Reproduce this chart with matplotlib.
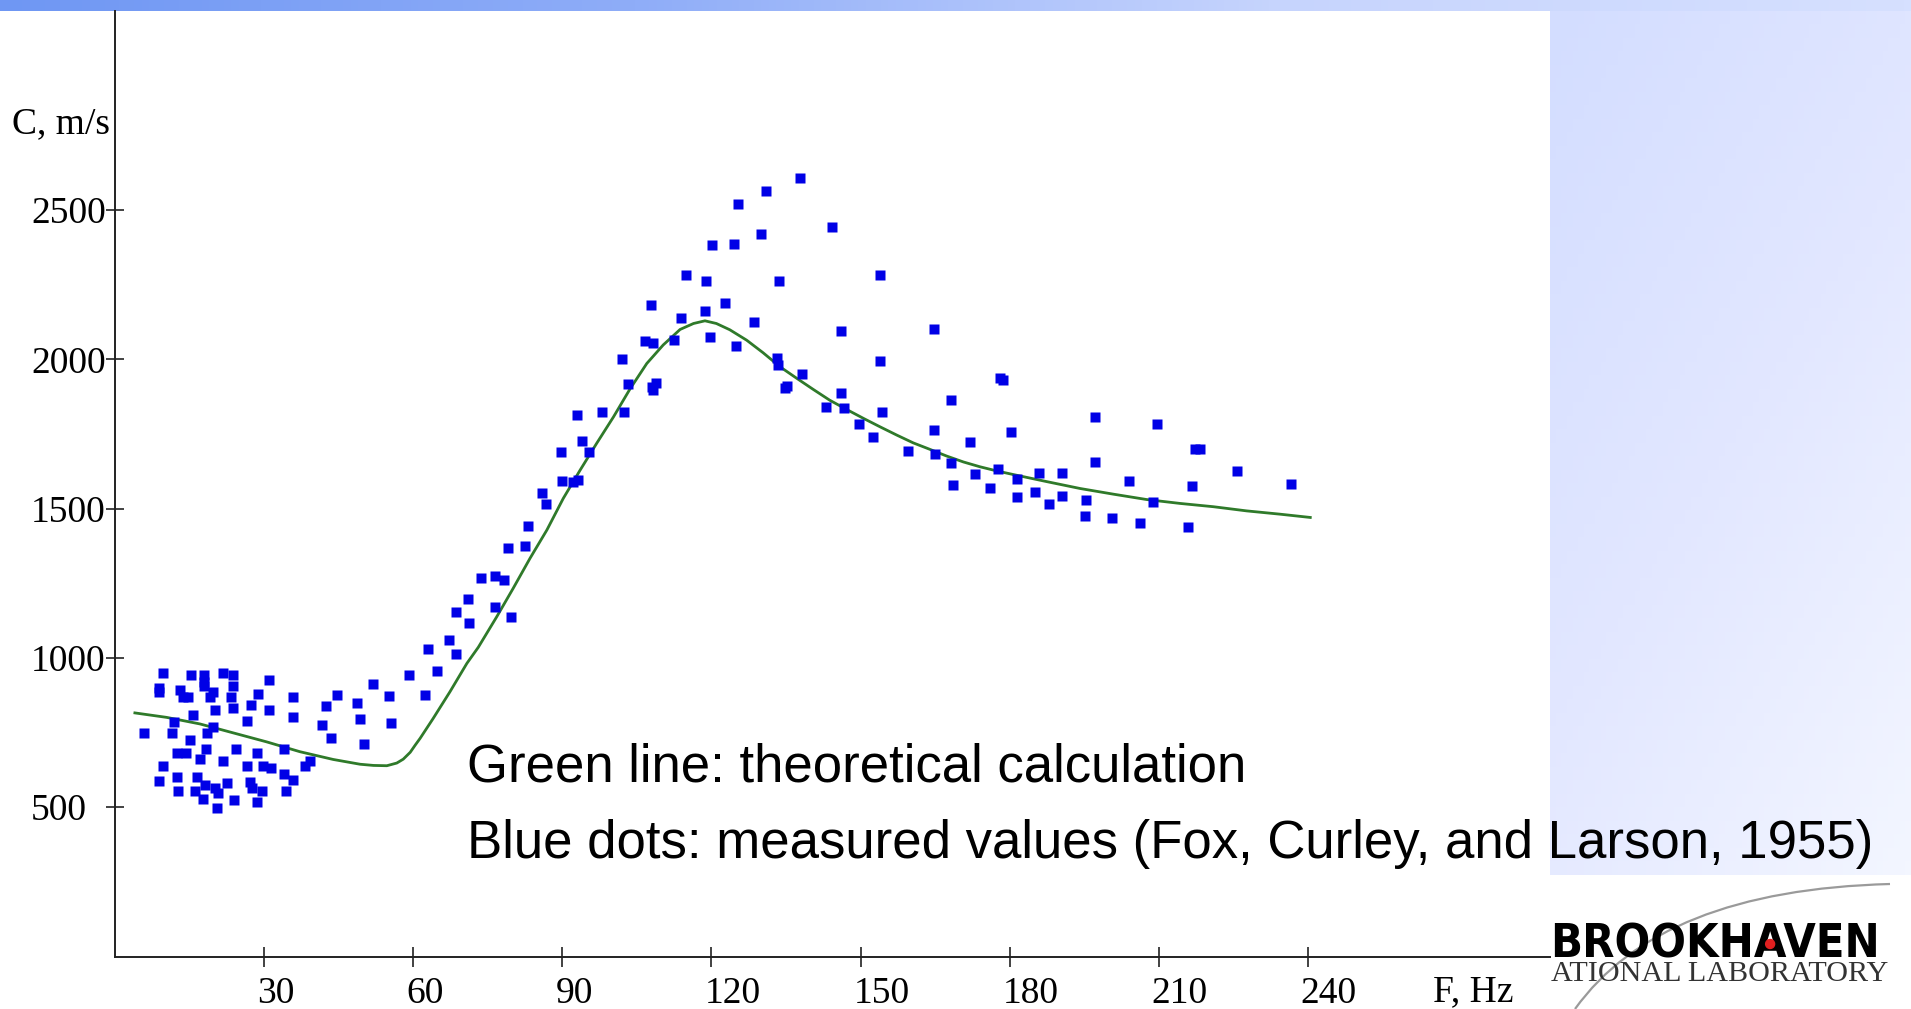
import numpy as np
import matplotlib
matplotlib.use('Agg')
import matplotlib.pyplot as plt
from matplotlib.transforms import ScaledTranslation
from matplotlib.path import Path
from matplotlib.patches import PathPatch, Circle

# measured sound speed in pipes (Fox, Curley and Larson, 1955)
freq_meas = [
    9.6, 15.2, 17.9, 21.8, 23.7, 31.0, 8.9, 8.9, 13.1, 13.7, 14.6, 17.9, 17.9,
    19.7, 19.1, 23.7, 23.3, 28.8, 27.3, 23.8, 20.1, 31.0, 35.9, 35.9, 15.6, 11.9,
    26.5, 19.8, 18.6, 5.8, 11.4, 15.0, 12.4, 14.3, 18.3, 17.2, 24.3, 21.7, 28.5,
    26.5, 29.7, 31.3, 34.0, 34.0, 35.8, 39.2, 38.2, 9.6, 8.9, 12.5, 16.4, 12.7,
    16.1, 18.1, 20.1, 20.8, 17.8, 22.5, 23.9, 20.5, 27.2, 27.5, 29.5, 28.5, 34.5,
    41.6, 42.5, 44.6, 43.4, 48.6, 49.2, 50.2, 51.9, 55.2, 55.5, 59.2, 62.4, 63.0,
    64.8, 67.2, 68.6, 68.7, 71.3, 71.1, 76.5, 79.6,
    73.6, 76.5, 78.3, 79.1, 82.5, 83.0, 86.0, 86.7, 89.9, 92.2, 93.2, 89.7, 93.9,
    95.4, 92.9, 97.9, 102.4, 103.3, 102.1, 108.0, 108.8, 108.3, 106.6, 108.3,
    107.8, 112.5, 113.8, 114.9, 118.7, 119.7, 119.0, 122.7, 124.9, 128.5, 120.2,
    124.6, 129.9, 133.1, 133.5, 133.7,
    137.8, 131.0, 125.4, 144.2, 153.9, 146.1, 164.7, 138.2, 134.8, 135.3, 153.9,
    146.1, 143.1, 146.7, 154.3, 149.6, 152.5, 159.6, 164.8, 164.9, 168.2, 168.3,
    172.0, 173.0, 178.0, 178.6, 180.3, 177.7, 181.4, 185.9, 190.5, 197.2, 197.1,
    168.6,
    209.6, 217.4, 218.4, 176.1, 181.4, 185.1, 188.0, 190.5, 195.3, 195.2, 200.7,
    204.0, 206.2, 208.9, 216.8, 215.8, 225.7, 236.6,
]
speed_meas = [
    949, 942, 942, 949, 942, 925, 900, 886, 891, 869, 869, 919, 905,
    886, 867, 905, 869, 880, 843, 830, 824, 824, 867, 800, 808, 785,
    789, 769, 748, 746, 748, 724, 679, 681, 693, 659, 693, 653, 679,
    638, 638, 629, 694, 610, 590, 655, 638, 638, 588, 599, 601, 554,
    554, 573, 562, 545, 525, 581, 523, 498, 584, 562, 554, 517, 554,
    774, 838, 875, 732, 849, 794, 710, 912, 872, 782, 942, 875, 1029,
    955, 1061, 1012, 1154, 1117, 1198, 1169, 1137,
    1266, 1273, 1262, 1368, 1375, 1442, 1551, 1514, 1593, 1590, 1595, 1688, 1726,
    1688, 1813, 1824, 1824, 1917, 2001, 1908, 1919, 1896, 2062, 2055,
    2182, 2064, 2137, 2282, 2163, 2075, 2263, 2189, 2044, 2126, 2383,
    2388, 2420, 2003, 1981, 2263,
    2606, 2564, 2520, 2444, 2282, 2094, 2100, 1950, 1905, 1912, 1994,
    1888, 1841, 1837, 1824, 1782, 1738, 1693, 1763, 1681, 1863, 1651,
    1724, 1615, 1939, 1932, 1755, 1631, 1598, 1620, 1620, 1807, 1656,
    1580,
    1782, 1699, 1699, 1570, 1539, 1556, 1514, 1543, 1530, 1475, 1469,
    1593, 1450, 1521, 1575, 1437, 1625, 1582,
]

# theoretical calculation
freq_theory = [
    4.0, 10.4, 17.1, 23.8, 30.5, 37.2, 43.9, 49.3, 52.0, 54.7, 56.7, 58.0, 59.4,
    60.4, 61.4, 64.0, 67.4, 70.8, 73.1, 76.8, 80.1, 83.5, 86.9, 90.2, 93.6, 96.9,
    100.3, 103.6, 107.0, 110.3, 113.7, 116.4, 118.7, 121.0, 123.7, 127.1, 130.4,
    133.8, 137.2, 140.5, 143.8, 147.2, 150.6, 153.9, 157.3, 160.6, 164.0, 167.3,
    170.7, 174.0, 177.4, 180.7, 187.5, 194.2, 200.9, 207.6, 214.3, 221.0, 227.7,
    234.4, 240.5,
]
speed_theory = [
    815, 800, 778, 748, 718, 685, 659, 643, 639, 638, 647, 660, 683,
    707, 730, 796, 886, 981, 1035, 1137, 1232, 1333, 1428, 1534, 1629, 1718,
    1807, 1900, 1986, 2048, 2100, 2120, 2129, 2120, 2099, 2064, 2022,
    1975, 1936, 1899, 1863, 1832, 1802, 1774, 1746, 1720, 1698, 1676,
    1656, 1640, 1626, 1614, 1590, 1567, 1548, 1530, 1517, 1506, 1492,
    1481, 1470,
]

x_ticks = [30, 60, 90, 120, 150, 180, 210, 240]
y_ticks = [500, 1000, 1500, 2000, 2500]

W, H = 1911, 1009
SERIF = ['Liberation Serif', 'DejaVu Serif']
SANS = ['Liberation Sans', 'DejaVu Sans']


def fx(px):
    return px / W


def fy(py):
    return 1 - py / H


def fit_width(txt, width_px, renderer):
    # scale the font so the text spans the given width in pixels
    w = txt.get_window_extent(renderer).width
    txt.set_fontsize(txt.get_fontsize() * width_px / w)


fig = plt.figure(figsize=(W / 100, H / 100), dpi=100, facecolor='white')

# slide background: top band and side panel
bg = fig.add_axes([0, 0, 1, 1], zorder=-1)
bg.set_xlim(0, W)
bg.set_ylim(H, 0)
bg.axis('off')
band = np.linspace(0, 1, 256)[None, :]
band_cmap = matplotlib.colors.LinearSegmentedColormap.from_list(
    'band', ['#6f97f3', '#8fadf8', '#c6d4fd', '#d6e0ff'])
bg.imshow(band, cmap=band_cmap, extent=[0, W, 11, 0], aspect='auto')
gx, gy = np.meshgrid(np.linspace(0, 1, 64), np.linspace(0, 1, 64))
panel_cmap = matplotlib.colors.LinearSegmentedColormap.from_list(
    'panel', ['#d3ddff', '#e2e7ff', '#f3f6ff'])
bg.imshow(0.6 * gy + 0.4 * gx, cmap=panel_cmap, extent=[1550, W, 875, 11],
          aspect='auto', vmin=0, vmax=1)

# main chart
ax_left, ax_right, ax_top, ax_bottom = 115, 1550, 11, 957
ax = fig.add_axes([fx(ax_left), fy(ax_bottom), fx(ax_right - ax_left),
                   (ax_bottom - ax_top) / H])
ax.set_facecolor('white')
ax.set_xlim(0, (ax_right - ax_left) / 4.97)
ax.set_ylim(-3, (ax_bottom - ax_top) / 0.2984 - 3)

ax.plot(freq_theory, speed_theory, color='#2f7a2a', lw=2.0, zorder=2)
ax.plot(freq_meas, speed_meas, ls='none', marker='s', ms=6.6,
        mfc='#0000e6', mec='none', zorder=3)

for side in ['top', 'right']:
    ax.spines[side].set_visible(False)
for side in ['left', 'bottom']:
    ax.spines[side].set_color('#222222')
    ax.spines[side].set_linewidth(1.4)

ax.set_xticks(x_ticks)
ax.set_xticklabels([str(v) for v in x_ticks], ha='left',
                   fontfamily=SERIF, fontsize=27)
ax.set_yticks(y_ticks)
ax.set_yticklabels([str(v) for v in y_ticks], ha='left',
                   fontfamily=SERIF, fontsize=27)
ax.tick_params(axis='x', direction='inout', length=14.4, width=1.2,
               pad=6.5, colors='#222222', labelcolor='black')
ax.tick_params(axis='y', direction='inout', length=13, width=1.2,
               pad=54, colors='#222222', labelcolor='black')
shift = ScaledTranslation(-7 / 100, 0, fig.dpi_scale_trans)
for lbl in ax.get_xticklabels():
    lbl.set_transform(lbl.get_transform() + shift)

fig.text(fx(12), fy(133), 'C, m/s', fontfamily=SERIF, fontsize=27,
         va='baseline', ha='left')
fig.text(fx(1433), fy(1001), 'F, Hz', fontfamily=SERIF, fontsize=27,
         va='baseline', ha='left')

fig.text(fx(467), fy(782), 'Green line: theoretical calculation',
         fontfamily=SANS, fontsize=38, va='baseline', ha='left')
fig.text(fx(467), fy(858),
         'Blue dots: measured values (Fox, Curley, and Larson, 1955)',
         fontfamily=SANS, fontsize=38, va='baseline', ha='left')

# laboratory logo, lower right
logo = fig.add_axes([fx(1550), 0, fx(W - 1550), (H - 875) / H], zorder=5)
logo.set_xlim(1550, W)
logo.set_ylim(H, 875)
logo.set_facecolor('white')
logo.axis('off')
swoosh = Path([(1575, 1009), (1660, 890), (1890, 884)],
              [Path.MOVETO, Path.CURVE3, Path.CURVE3])
logo.add_patch(PathPatch(swoosh, fc='none', ec='#9a9a9a', lw=1.6))
name_kw = dict(fontfamily='DejaVu Sans', fontstretch='condensed',
               fontweight='bold', va='baseline', ha='left')
name = logo.text(1550, 957, 'BROOKHAVEN', fontsize=34, **name_kw)
sub = logo.text(1551, 981, 'ATIONAL LABORATORY', fontfamily=SERIF,
                fontsize=21, color='#333333', va='baseline', ha='left')
renderer = fig.canvas.get_renderer()
fit_width(name, 329, renderer)
fit_width(sub, 336, renderer)

# red dot sits inside the "A" of the name
probe = logo.text(1550, 957, 'BROOKH', fontsize=name.get_fontsize(), **name_kw)
w_pre = probe.get_window_extent(renderer).width
probe.set_text('BROOKHA')
w_a = probe.get_window_extent(renderer).width
probe.remove()
logo.add_patch(Circle((1550 + (w_pre + w_a) / 2, 944), 4.5, color='#e02020',
                      zorder=6))

fig.savefig('out.png', dpi=100, facecolor='white')
